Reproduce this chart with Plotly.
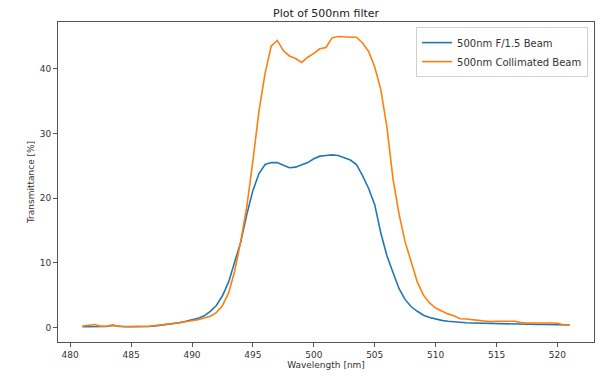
import plotly.graph_objects as go

wavelength = [481 + 0.5 * i for i in range(81)]

f15_beam = [0.1, 0.1, 0.15, 0.1, 0.15, 0.3, 0.15, 0.1, 0.1, 0.1,
            0.1, 0.15, 0.25, 0.35, 0.45, 0.55, 0.75, 0.95, 1.15, 1.4,
            1.8, 2.5, 3.4, 4.9, 7.0, 10.0, 13.2, 17.5, 21.2, 23.8,
            25.2, 25.5, 25.5, 25.1, 24.7, 24.8, 25.1, 25.5, 26.1, 26.5,
            26.6, 26.7, 26.6, 26.3, 25.9, 25.2, 23.5, 21.5, 19.0, 14.6,
            11.1, 8.5, 6.0, 4.3, 3.2, 2.5, 1.9, 1.55, 1.3, 1.1,
            0.95, 0.85, 0.78, 0.72, 0.68, 0.65, 0.62, 0.6, 0.58, 0.56,
            0.55, 0.53, 0.5, 0.5, 0.48, 0.46, 0.45, 0.43, 0.42, 0.4, 0.38]

collimated_beam = [0.2, 0.3, 0.45, 0.2, 0.2, 0.4, 0.15, 0.15, 0.15, 0.15,
                   0.15, 0.2, 0.3, 0.45, 0.5, 0.6, 0.75, 0.85, 1.0, 1.2,
                   1.45, 1.75, 2.3, 3.4, 5.3, 8.7, 13.3, 18.7, 25.8, 33.5,
                   39.3, 43.5, 44.4, 42.8, 42.0, 41.6, 41.0, 41.8, 42.4, 43.1,
                   43.3, 44.8, 45.0, 44.9, 44.9, 44.9, 44.0, 42.7, 40.3, 36.8,
                   31.0, 23.0, 17.5, 13.2, 10.0, 7.0, 5.0, 3.8, 3.0, 2.5,
                   2.1, 1.8, 1.35, 1.3, 1.25, 1.1, 1.0, 0.9, 0.95, 1.0,
                   0.95, 0.95, 0.75, 0.7, 0.72, 0.7, 0.65, 0.7, 0.65, 0.4, 0.35]

x_ticks = [480, 485, 490, 495, 500, 505, 510, 515, 520]
y_ticks = [0, 10, 20, 30, 40]

fig = go.Figure()
fig.add_trace(go.Scatter(x=wavelength, y=f15_beam, mode="lines",
                         name="500nm F/1.5 Beam",
                         line=dict(color="#1f77b4", width=1.6)))
fig.add_trace(go.Scatter(x=wavelength, y=collimated_beam, mode="lines",
                         name="500nm Collimated Beam",
                         line=dict(color="#ff7f0e", width=1.6)))

axis_common = dict(showgrid=False, zeroline=False, showline=True,
                   linecolor="#555", linewidth=1, mirror=True,
                   ticks="outside", ticklen=4, tickcolor="#555",
                   automargin=False,
                   tickfont=dict(family="DejaVu Sans", size=9, color="#333"))

# page body has an 8px default margin, so the figure is 8px smaller
fig.update_layout(
    width=599, height=372,
    margin=dict(l=50, r=13, t=14, b=38),
    paper_bgcolor="white", plot_bgcolor="white",
    font=dict(family="DejaVu Sans", color="#333"),
    title=dict(text="Plot of 500nm filter", x=0.531, xanchor="center",
               y=0.986, yanchor="middle",
               font=dict(family="DejaVu Sans", size=11, color="#222")),
    xaxis=dict(range=[479.0, 523.0], tickvals=x_ticks,
               title=dict(text="Wavelength [nm]", standoff=1,
                          font=dict(family="DejaVu Sans", size=9, color="#333")),
               **axis_common),
    yaxis=dict(range=[-2.25, 47.25], tickvals=y_ticks,
               title=dict(text="Transmittance [%]", standoff=3,
                          font=dict(family="DejaVu Sans", size=9, color="#333")),
               **axis_common),
    legend=dict(x=0.989, y=0.984, xanchor="right", yanchor="top",
                bgcolor="rgba(255,255,255,0.8)", bordercolor="#d0d0d0",
                borderwidth=1, font=dict(family="DejaVu Sans", size=10, color="#333"),
                tracegroupgap=0, itemwidth=30),
    showlegend=True,
)

fig.write_html("out.html")
